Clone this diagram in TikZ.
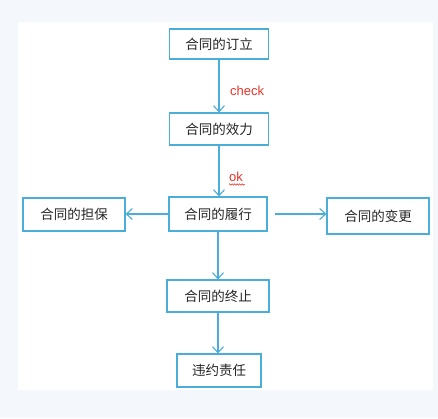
\documentclass[tikz,border=0pt]{standalone}
\usepackage{fontspec}
\setmainfont{Liberation Sans}
\newfontfamily\cjk{Noto Sans CJK SC}
\usetikzlibrary{arrows.meta,decorations.pathmorphing}
\definecolor{lineblue}{HTML}{4AAED8}
\definecolor{txtred}{HTML}{E8332A}
\definecolor{outerbg}{HTML}{F4F8FC}
\tikzset{
  box/.style={draw=lineblue, line width=1.1pt, fill=white, minimum height=32pt, inner sep=0pt, font=\cjk\fontsize{13.5}{13.5}\selectfont, text=black!85},
  conn/.style={draw=lineblue, line width=1.1pt, -{Straight Barb[length=6pt,width=11pt,line width=1.1pt]}},
  lbl/.style={text=txtred, font=\fontsize{13}{13}\selectfont, inner sep=0pt}
}
\begin{document}
\begin{tikzpicture}[x=1pt,y=-1pt]
\useasboundingbox (0,0) rectangle (438,418);
\fill[outerbg] (0,0) rectangle (438,418);
\fill[white] (18,22) rectangle (433,390);
\node[box, minimum width=99pt, minimum height=30pt] (a) at (219,44) {合同的订立};
\node[box, minimum width=99pt] (b) at (219,129) {合同的效力};
\node[box, minimum width=98pt, minimum height=34pt] (c) at (218,214) {合同的履行};
\node[box, minimum width=102pt, minimum height=33pt] (l) at (74,214.5) {合同的担保};
\node[box, minimum width=102pt, minimum height=36pt] (r) at (378,216) {合同的变更};
\node[box, minimum width=102pt] (d) at (218,296) {合同的终止};
\node[box, minimum width=84pt, minimum height=33pt] (e) at (219,370.5) {违约责任};
\draw[conn] (a.south) -- (b.north);
\draw[conn] (b.south) -- (b.south |- c.north);
\draw[conn] (c.west) -- (c.west -| l.east);
\coordinate (cr) at ([xshift=7pt]c.east);
\draw[conn] (cr) -- (cr -| r.west);
\draw[conn] (c.south) -- (c.south |- d.north);
\draw[conn] (d.south) -- (d.south |- e.north);
\node[lbl, anchor=west] (chk) at (230,91) {check};
\node[lbl, anchor=west] (ok) at (229,177) {ok};
\draw[txtred, line width=0.5pt, decorate, decoration={zigzag, amplitude=0.8pt, segment length=2.5pt}] ([yshift=-2.5pt]ok.south west) -- ([yshift=-2.5pt,xshift=2pt]ok.south east);
\end{tikzpicture}
\end{document}
